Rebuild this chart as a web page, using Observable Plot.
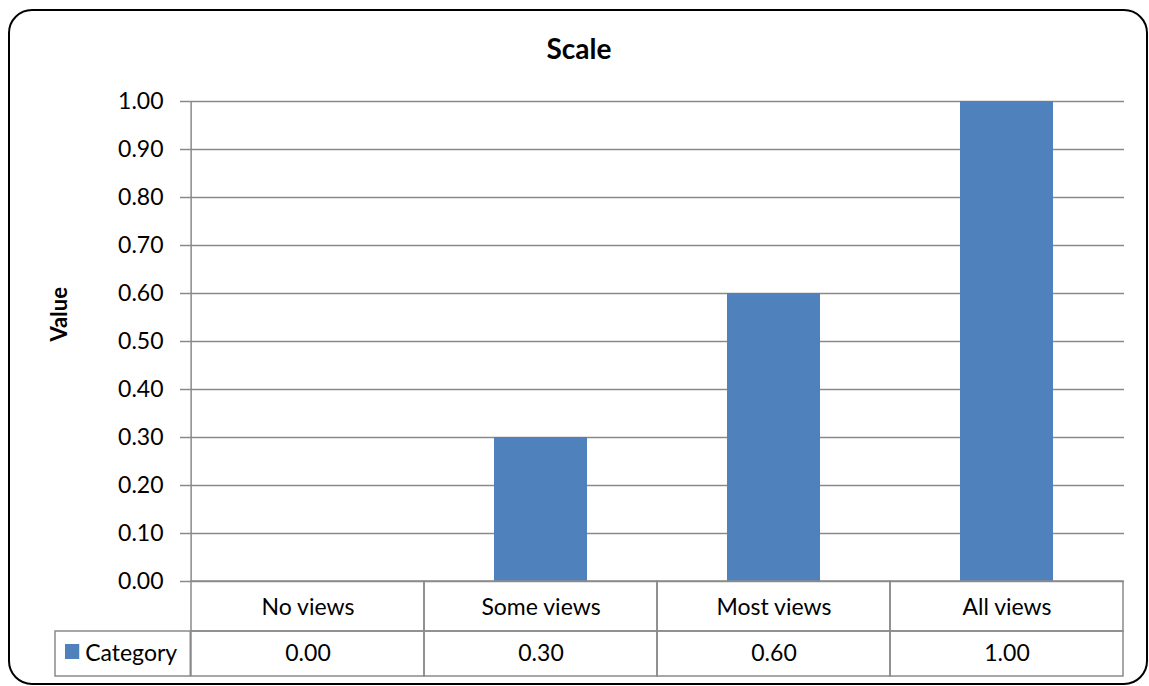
<!DOCTYPE html>
<html>
<head>
<meta charset="utf-8">
<script src="https://cdn.jsdelivr.net/npm/d3@7"></script>
<script src="https://cdn.jsdelivr.net/npm/@observablehq/plot@0.6"></script>
<style>
  html, body { margin: 0; padding: 0; background: #fff; }
  #wrap { position: relative; width: 1149px; height: 686px; overflow: hidden; font-family: Lato, "Open Sans", sans-serif; }
  #border { position: absolute; left: 8px; top: 9px; width: 1140px; height: 676px; box-sizing: border-box;
            border: 2px solid #000; border-radius: 24px; pointer-events: none; }
  #title { position: absolute; left: 0; width: 1158px; top: 31px; text-align: center; font-weight: bold; font-size: 28px; color: #000; }
  #chart { position: absolute; left: 0; top: 0; }
</style>
</head>
<body>
<div id="wrap">
  <div id="chart"></div>
  <div id="border"></div>
  <div id="title"></div>
</div>
<script>
const title = "Scale";
const yLabel = "Value";
const seriesName = "Category";
const categories = ["No views", "Some views", "Most views", "All views"];
const values = [0.00, 0.30, 0.60, 1.00];
const yTicks = [0.00, 0.10, 0.20, 0.30, 0.40, 0.50, 0.60, 0.70, 0.80, 0.90, 1.00];

document.getElementById("title").textContent = title;

const W = 1149, H = 686, mL = 189, mR = 25, mT = 101, mB = 105;
const bw = (W - mL - mR) / categories.length;
const gray = "#8a8a8a";
const blue = "#4f81bd";
const fmt = d3.format(".2f");
const fs = 23;

const chart = Plot.plot({
  width: W, height: H,
  marginLeft: mL, marginRight: mR, marginTop: mT, marginBottom: mB,
  style: { fontFamily: "Lato, 'Open Sans', sans-serif", fontSize: fs + "px", color: "#000", background: "transparent", overflow: "visible" },
  x: { domain: categories, padding: 0, axis: null },
  y: { domain: [0, 1], axis: null },
  marks: [
    Plot.gridY(yTicks, { stroke: gray, strokeOpacity: 1, strokeWidth: 1.5 }),
    Plot.axisY(yTicks, { tickFormat: fmt, tickSize: 9, tickPadding: 17, stroke: gray, strokeWidth: 1.5, fontSize: fs, label: null }),
    Plot.ruleX([categories[0]], { x: d => d, y1: 0, y2: 1, dx: -bw / 2, stroke: gray, strokeWidth: 1.5 }),
    Plot.barY(values, { x: (d, i) => categories[i], y: d => d, fill: blue, insetLeft: 70, insetRight: 70 }),
    // data table: category row
    Plot.rect(categories, { x: d => d, y1: 0, y2: 0, insetBottom: -50, fill: "none", stroke: gray, strokeWidth: 1.5 }),
    // data table: values row
    Plot.rect(categories, { x: d => d, y1: 0, y2: 0, insetTop: 50, insetBottom: -95, fill: "none", stroke: gray, strokeWidth: 1.5 }),
    // legend cell
    Plot.rect([seriesName], { x: () => categories[0], y1: 0, y2: 0, insetTop: 50, insetBottom: -95, insetLeft: -136, insetRight: bw, fill: "none", stroke: gray, strokeWidth: 1.5 }),
    Plot.rect([seriesName], { x: () => categories[0], y1: 0, y2: 0, insetTop: 63, insetBottom: -78, insetLeft: -126, insetRight: bw + 111, fill: blue }),
    Plot.text([seriesName], { x: () => categories[0], y: 0, dy: 72, dx: -bw / 2 - 106, textAnchor: "start", text: d => d, fontSize: fs, fill: "#000" }),
    Plot.text(categories, { x: d => d, y: 0, dy: 26, text: d => d, fontSize: fs, fill: "#000" }),
    Plot.text(values, { x: (d, i) => categories[i], y: 0, dy: 72, text: d => fmt(d), fontSize: fs, fill: "#000" }),
    Plot.text([yLabel], { frameAnchor: "left", rotate: -90, dx: -130, text: d => d, fontSize: 22, fontWeight: "bold", fill: "#000" })
  ]
});
document.getElementById("chart").appendChild(chart);
</script>
</body>
</html>
